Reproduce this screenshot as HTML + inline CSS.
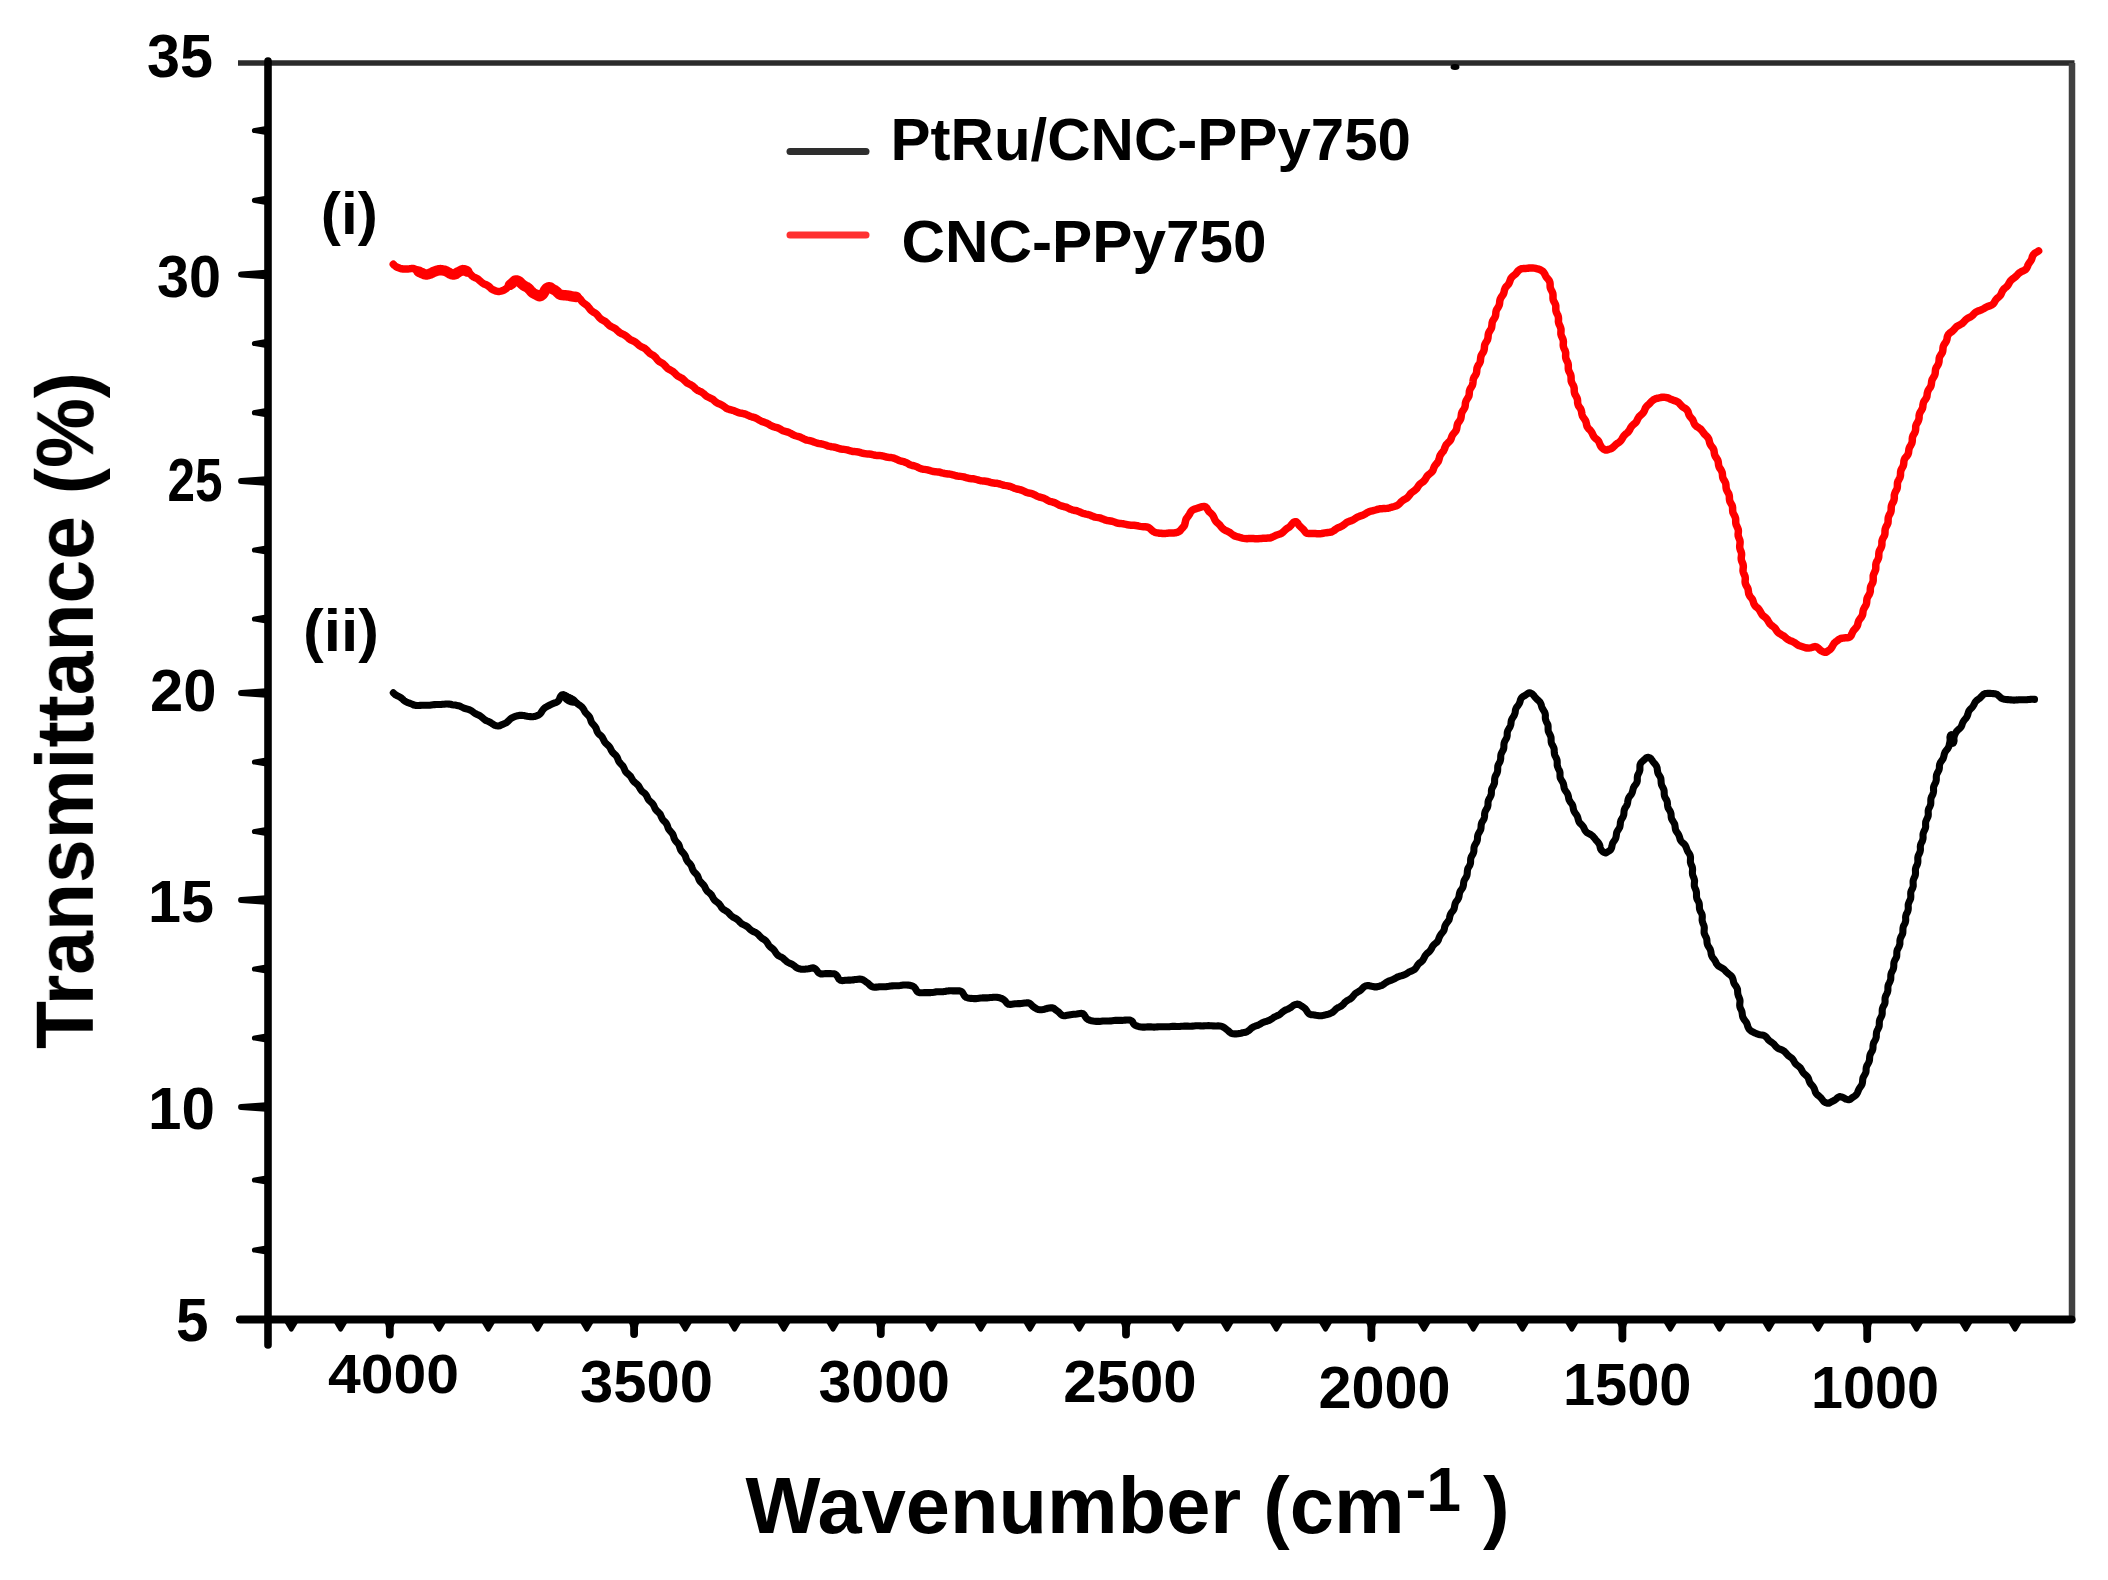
<!DOCTYPE html>
<html lang="en"><head><meta charset="utf-8"><title>FTIR spectra</title>
<style>
html,body{margin:0;padding:0;background:#fff;}
body{width:2108px;height:1580px;overflow:hidden;}
svg{display:block;}
text{font-family:"Liberation Sans",Arial,Helvetica,sans-serif;font-weight:bold;fill:#000;}
</style></head><body>
<svg width="2108" height="1580" viewBox="0 0 2108 1580">
<rect width="2108" height="1580" fill="#fff"/>
<g id="chart" style="filter:blur(0.55px)">
<line x1="238" y1="63" x2="2074.5" y2="63" stroke="#2b2b2b" stroke-width="5.5"/>
<line x1="2072" y1="63" x2="2072" y2="1321.5" stroke="#404040" stroke-width="6.5"/>
<line x1="268" y1="61" x2="268" y2="1345" stroke="#000" stroke-width="7.6" stroke-linecap="round"/>
<line x1="240" y1="1319.5" x2="2071.5" y2="1319.5" stroke="#000" stroke-width="8.2" stroke-linecap="round"/>
<g fill="#000">
<path d="M241,271.6 L266,269.7 L266,279.3 L241,277.4 A2.9,2.9 0 0 1 241,271.6 Z"/>
<path d="M241,478.1 L266,476.2 L266,485.8 L241,483.9 A2.9,2.9 0 0 1 241,478.1 Z"/>
<path d="M241,690.1 L266,688.2 L266,697.8 L241,695.9 A2.9,2.9 0 0 1 241,690.1 Z"/>
<path d="M241,897.1 L266,895.2 L266,904.8 L241,902.9 A2.9,2.9 0 0 1 241,897.1 Z"/>
<path d="M241,1104.1 L266,1102.2 L266,1111.8 L241,1109.9 A2.9,2.9 0 0 1 241,1104.1 Z"/>
<path d="M254.5,127.9 L266,125.9 L266,135.1 L254.5,133.1 A2.6,2.6 0 0 1 254.5,127.9 Z"/>
<path d="M254.5,197.70000000000002 L266,195.70000000000002 L266,204.9 L254.5,202.9 A2.6,2.6 0 0 1 254.5,197.70000000000002 Z"/>
<path d="M254.5,340.9 L266,338.9 L266,348.1 L254.5,346.1 A2.6,2.6 0 0 1 254.5,340.9 Z"/>
<path d="M254.5,410.09999999999997 L266,408.09999999999997 L266,417.3 L254.5,415.3 A2.6,2.6 0 0 1 254.5,410.09999999999997 Z"/>
<path d="M254.5,547.4 L266,545.4 L266,554.6 L254.5,552.6 A2.6,2.6 0 0 1 254.5,547.4 Z"/>
<path d="M254.5,616.4 L266,614.4 L266,623.6 L254.5,621.6 A2.6,2.6 0 0 1 254.5,616.4 Z"/>
<path d="M254.5,759.4 L266,757.4 L266,766.6 L254.5,764.6 A2.6,2.6 0 0 1 254.5,759.4 Z"/>
<path d="M254.5,828.9 L266,826.9 L266,836.1 L254.5,834.1 A2.6,2.6 0 0 1 254.5,828.9 Z"/>
<path d="M254.5,966.4 L266,964.4 L266,973.6 L254.5,971.6 A2.6,2.6 0 0 1 254.5,966.4 Z"/>
<path d="M254.5,1035.4 L266,1033.4 L266,1042.6 L254.5,1040.6 A2.6,2.6 0 0 1 254.5,1035.4 Z"/>
<path d="M254.5,1177.4 L266,1175.4 L266,1184.6 L254.5,1182.6 A2.6,2.6 0 0 1 254.5,1177.4 Z"/>
<path d="M254.5,1247.4 L266,1245.4 L266,1254.6 L254.5,1252.6 A2.6,2.6 0 0 1 254.5,1247.4 Z"/>
</g>
<line x1="240" y1="1319.5" x2="268" y2="1319.5" stroke="#000" stroke-width="7" stroke-linecap="round"/>
<g fill="#000">
<path d="M380.3,1319.5 Q385.9,1322.5 385.9,1327.5 L385.9,1334.6 A3.9,3.9 0 0 0 393.7,1334.6 L393.7,1327.5 Q393.7,1322.5 399.3,1319.5 Z"/>
<path d="M624.6,1319.5 Q630.2,1322.5 630.2,1327.5 L630.2,1334.1 A3.9,3.9 0 0 0 638.0,1334.1 L638.0,1327.5 Q638.0,1322.5 643.6,1319.5 Z"/>
<path d="M871.3,1319.5 Q876.9,1322.5 876.9,1327.5 L876.9,1334.1 A3.9,3.9 0 0 0 884.7,1334.1 L884.7,1327.5 Q884.7,1322.5 890.3,1319.5 Z"/>
<path d="M1116.5,1319.5 Q1122.1,1322.5 1122.1,1327.5 L1122.1,1334.6 A3.9,3.9 0 0 0 1129.9,1334.6 L1129.9,1327.5 Q1129.9,1322.5 1135.5,1319.5 Z"/>
<path d="M1361.9,1319.5 Q1367.5,1322.5 1367.5,1327.5 L1367.5,1338.1 A3.9,3.9 0 0 0 1375.3,1338.1 L1375.3,1327.5 Q1375.3,1322.5 1380.9,1319.5 Z"/>
<path d="M1612.9,1319.5 Q1618.5,1322.5 1618.5,1327.5 L1618.5,1338.6 A3.9,3.9 0 0 0 1626.3,1338.6 L1626.3,1327.5 Q1626.3,1322.5 1631.9,1319.5 Z"/>
<path d="M1857.7,1319.5 Q1863.3,1322.5 1863.3,1327.5 L1863.3,1339.1 A3.9,3.9 0 0 0 1871.1,1339.1 L1871.1,1327.5 Q1871.1,1322.5 1876.7,1319.5 Z"/>
<path d="M282.8,1319.5 L289.3,1330.5 Q291.3,1333.0 293.3,1330.5 L299.8,1319.5 Z"/>
<path d="M332.1,1319.5 L338.6,1330.5 Q340.6,1333.0 342.6,1330.5 L349.1,1319.5 Z"/>
<path d="M430.6,1319.5 L437.1,1330.5 Q439.1,1333.0 441.1,1330.5 L447.6,1319.5 Z"/>
<path d="M479.8,1319.5 L486.3,1330.5 Q488.3,1333.0 490.3,1330.5 L496.8,1319.5 Z"/>
<path d="M529.0,1319.5 L535.5,1330.5 Q537.5,1333.0 539.5,1330.5 L546.0,1319.5 Z"/>
<path d="M578.3,1319.5 L584.8,1330.5 Q586.8,1333.0 588.8,1330.5 L595.3,1319.5 Z"/>
<path d="M676.8,1319.5 L683.3,1330.5 Q685.3,1333.0 687.3,1330.5 L693.8,1319.5 Z"/>
<path d="M726.0,1319.5 L732.5,1330.5 Q734.5,1333.0 736.5,1330.5 L743.0,1319.5 Z"/>
<path d="M775.3,1319.5 L781.8,1330.5 Q783.8,1333.0 785.8,1330.5 L792.3,1319.5 Z"/>
<path d="M824.5,1319.5 L831.0,1330.5 Q833.0,1333.0 835.0,1330.5 L841.5,1319.5 Z"/>
<path d="M923.0,1319.5 L929.5,1330.5 Q931.5,1333.0 933.5,1330.5 L940.0,1319.5 Z"/>
<path d="M972.3,1319.5 L978.8,1330.5 Q980.8,1333.0 982.8,1330.5 L989.3,1319.5 Z"/>
<path d="M1021.5,1319.5 L1028.0,1330.5 Q1030.0,1333.0 1032.0,1330.5 L1038.5,1319.5 Z"/>
<path d="M1070.8,1319.5 L1077.3,1330.5 Q1079.3,1333.0 1081.3,1330.5 L1087.8,1319.5 Z"/>
<path d="M1169.3,1319.5 L1175.8,1330.5 Q1177.8,1333.0 1179.8,1330.5 L1186.3,1319.5 Z"/>
<path d="M1218.5,1319.5 L1225.0,1330.5 Q1227.0,1333.0 1229.0,1330.5 L1235.5,1319.5 Z"/>
<path d="M1267.8,1319.5 L1274.3,1330.5 Q1276.3,1333.0 1278.3,1330.5 L1284.8,1319.5 Z"/>
<path d="M1317.0,1319.5 L1323.5,1330.5 Q1325.5,1333.0 1327.5,1330.5 L1334.0,1319.5 Z"/>
<path d="M1415.5,1319.5 L1422.0,1330.5 Q1424.0,1333.0 1426.0,1330.5 L1432.5,1319.5 Z"/>
<path d="M1464.8,1319.5 L1471.3,1330.5 Q1473.3,1333.0 1475.3,1330.5 L1481.8,1319.5 Z"/>
<path d="M1514.0,1319.5 L1520.5,1330.5 Q1522.5,1333.0 1524.5,1330.5 L1531.0,1319.5 Z"/>
<path d="M1563.3,1319.5 L1569.8,1330.5 Q1571.8,1333.0 1573.8,1330.5 L1580.3,1319.5 Z"/>
<path d="M1661.8,1319.5 L1668.3,1330.5 Q1670.3,1333.0 1672.3,1330.5 L1678.8,1319.5 Z"/>
<path d="M1711.0,1319.5 L1717.5,1330.5 Q1719.5,1333.0 1721.5,1330.5 L1728.0,1319.5 Z"/>
<path d="M1760.3,1319.5 L1766.8,1330.5 Q1768.8,1333.0 1770.8,1330.5 L1777.3,1319.5 Z"/>
<path d="M1809.5,1319.5 L1816.0,1330.5 Q1818.0,1333.0 1820.0,1330.5 L1826.5,1319.5 Z"/>
<path d="M1908.0,1319.5 L1914.5,1330.5 Q1916.5,1333.0 1918.5,1330.5 L1925.0,1319.5 Z"/>
<path d="M1957.3,1319.5 L1963.8,1330.5 Q1965.8,1333.0 1967.8,1330.5 L1974.3,1319.5 Z"/>
<path d="M2006.5,1319.5 L2013.0,1330.5 Q2015.0,1333.0 2017.0,1330.5 L2023.5,1319.5 Z"/>
</g>
<ellipse cx="1455" cy="67" rx="4.5" ry="3" fill="#000"/>
<polyline points="393.3,264.2 394.4,265.4 395.7,266.4 397.1,267.2 398.6,267.8 400.0,268.4 401.6,268.8 403.1,269.0 404.7,269.0 406.3,269.0 407.9,268.9 409.5,268.8 411.1,268.6 412.7,268.5 414.3,268.8 415.8,269.5 417.1,270.5 418.4,271.4 419.8,272.2 421.3,272.8 422.7,273.4 424.1,274.1 425.7,274.5 427.2,274.4 428.8,274.1 430.4,273.6 431.8,272.9 433.2,272.1 434.7,271.4 436.2,270.9 437.8,270.5 439.3,270.2 440.9,270.1 442.4,270.3 444.0,270.6 445.5,271.1 447.0,271.7 448.4,272.5 449.8,273.4 451.3,274.1 452.8,274.5 454.4,274.6 455.9,273.9 457.1,272.9 458.5,272.1 459.9,271.4 461.3,270.7 462.8,270.1 464.3,270.3 465.8,270.8 467.2,271.5 468.6,272.3 469.8,273.4 470.9,274.7 472.0,275.8 473.3,276.8 474.7,277.5 476.2,278.2 477.7,278.9 478.9,279.9 480.1,281.0 481.3,282.1 482.6,283.1 484.0,283.9 485.5,284.5 487.0,285.2 488.3,286.0 489.5,287.0 490.7,288.2 492.0,289.2 493.4,290.0 494.9,290.6 496.4,291.1 497.9,291.5 499.4,291.4 501.0,291.1 502.5,290.7 504.0,290.1 505.4,289.2 506.7,288.2 507.8,287.0 508.8,285.9 510.0,284.8 511.4,283.9 512.6,282.9 513.7,281.8 514.8,280.7 516.4,280.4 517.9,280.8 519.3,281.6 520.5,282.7 521.7,283.9 522.9,285.0 524.2,285.8 525.7,286.6 527.1,287.3 528.4,288.2 529.5,289.4 530.6,290.7 531.7,291.9 532.9,292.9 534.3,293.7 535.8,294.4 537.1,295.1 538.4,296.0 540.0,296.2 541.4,295.6 542.7,294.5 543.6,293.2 544.4,291.7 545.1,290.2 546.1,288.9 547.3,287.9 548.7,287.2 550.2,287.4 551.5,288.3 552.8,289.2 554.3,289.9 555.6,290.8 556.8,291.8 558.0,293.0 559.2,294.1 560.6,294.8 562.2,295.1 563.8,295.2 565.4,295.3 567.0,295.4 568.6,295.7 570.2,296.0 571.8,296.3 573.3,296.6 574.9,296.8 576.5,297.0 578.1,297.4 579.4,298.3 580.6,299.5 581.5,300.9 582.6,302.1 583.7,303.2 585.1,304.1 586.4,305.0 587.6,306.1 588.6,307.3 589.6,308.6 590.6,309.9 591.8,311.0 593.1,311.9 594.5,312.7 595.9,313.6 597.0,314.7 598.1,316.0 599.1,317.3 600.2,318.4 601.4,319.4 602.9,320.2 604.3,321.0 605.6,321.8 606.8,322.9 607.9,324.1 609.1,325.2 610.4,326.2 611.8,326.9 613.3,327.6 614.7,328.3 616.0,329.3 617.2,330.4 618.4,331.5 619.6,332.5 621.0,333.4 622.5,334.0 623.9,334.7 625.3,335.5 626.6,336.5 627.8,337.6 629.0,338.7 630.3,339.6 631.7,340.3 633.2,340.9 634.7,341.7 636.0,342.6 637.2,343.6 638.4,344.7 639.6,345.8 641.0,346.6 642.5,347.3 644.0,347.9 645.3,348.8 646.5,349.9 647.6,351.1 648.7,352.3 649.9,353.4 651.2,354.2 652.7,355.0 654.0,355.9 655.2,357.0 656.2,358.2 657.2,359.5 658.3,360.7 659.6,361.7 661.0,362.5 662.4,363.3 663.7,364.3 664.8,365.4 665.9,366.6 667.0,367.8 668.2,368.8 669.6,369.7 671.1,370.4 672.5,371.2 673.7,372.2 674.9,373.3 676.0,374.5 677.2,375.6 678.5,376.5 679.9,377.2 681.4,378.0 682.7,378.8 683.9,379.9 685.1,381.1 686.2,382.2 687.5,383.2 688.9,383.9 690.4,384.6 691.8,385.4 693.1,386.3 694.3,387.4 695.4,388.6 696.6,389.6 698.0,390.5 699.5,391.2 701.0,391.8 702.3,392.6 703.6,393.6 704.8,394.7 706.0,395.8 707.3,396.7 708.8,397.4 710.3,398.1 711.7,398.8 713.1,399.6 714.3,400.7 715.5,401.8 716.8,402.7 718.2,403.5 719.7,404.1 721.2,404.7 722.6,405.5 723.9,406.4 725.2,407.4 726.5,408.3 728.0,409.0 729.5,409.5 731.1,409.9 732.6,410.3 734.1,410.8 735.6,411.4 737.1,412.1 738.6,412.7 740.1,413.1 741.7,413.3 743.3,413.6 744.9,414.0 746.4,414.6 747.8,415.2 749.3,415.9 750.8,416.5 752.3,417.0 753.9,417.4 755.4,417.9 756.8,418.6 758.2,419.4 759.6,420.3 761.0,421.1 762.4,421.7 764.0,422.2 765.5,422.7 767.0,423.3 768.4,424.0 769.8,424.9 771.2,425.7 772.6,426.4 774.2,426.9 775.7,427.3 777.3,427.7 778.7,428.3 780.2,429.1 781.6,429.9 783.0,430.7 784.5,431.2 786.0,431.6 787.6,432.0 789.1,432.6 790.6,433.3 791.9,434.1 793.4,434.9 794.8,435.5 796.4,436.0 797.9,436.4 799.5,436.8 801.0,437.4 802.4,438.2 803.8,438.9 805.3,439.6 806.8,440.1 808.4,440.4 810.0,440.7 811.5,441.1 813.0,441.6 814.5,442.3 816.0,442.8 817.5,443.3 819.1,443.6 820.7,443.8 822.3,444.1 823.8,444.5 825.4,445.0 826.9,445.6 828.4,446.1 830.0,446.4 831.5,446.7 833.1,446.9 834.7,447.2 836.2,447.6 837.8,448.2 839.3,448.6 840.9,449.0 842.5,449.2 844.1,449.4 845.6,449.6 847.2,449.9 848.8,450.4 850.3,450.8 851.8,451.2 853.4,451.5 855.0,451.6 856.6,451.8 858.2,452.0 859.8,452.4 861.3,452.9 862.9,453.3 864.4,453.6 866.0,453.8 867.6,453.9 869.2,454.0 870.8,454.2 872.4,454.6 873.9,455.0 875.5,455.3 877.1,455.5 878.7,455.5 880.3,455.6 881.9,455.8 883.5,456.2 885.0,456.6 886.6,457.0 888.1,457.3 889.7,457.5 891.3,457.6 892.9,457.9 894.5,458.4 895.9,459.0 897.4,459.7 898.8,460.4 900.4,460.9 901.9,461.3 903.5,461.6 905.0,462.2 906.5,462.8 907.9,463.6 909.3,464.4 910.8,465.0 912.3,465.5 913.9,465.8 915.4,466.3 916.9,466.8 918.4,467.6 919.8,468.2 921.3,468.8 922.9,469.2 924.5,469.4 926.1,469.6 927.6,469.9 929.2,470.3 930.7,470.8 932.3,471.2 933.8,471.5 935.4,471.7 937.0,471.9 938.6,472.0 940.2,472.3 941.8,472.8 943.3,473.2 944.9,473.6 946.4,473.8 948.0,474.0 949.6,474.1 951.2,474.4 952.8,474.8 954.3,475.2 955.8,475.7 957.4,476.0 959.0,476.2 960.6,476.4 962.2,476.6 963.8,476.9 965.3,477.4 966.8,477.8 968.4,478.2 970.0,478.5 971.6,478.7 973.2,478.8 974.8,479.1 976.3,479.5 977.8,479.9 979.4,480.4 981.0,480.7 982.5,480.9 984.2,481.0 985.7,481.2 987.3,481.5 988.9,481.9 990.4,482.4 992.0,482.8 993.5,483.0 995.1,483.2 996.7,483.3 998.3,483.6 999.9,484.0 1001.4,484.5 1002.9,485.0 1004.5,485.4 1006.1,485.6 1007.7,485.9 1009.2,486.2 1010.8,486.6 1012.3,487.3 1013.7,487.9 1015.2,488.5 1016.7,489.0 1018.3,489.3 1019.9,489.6 1021.4,490.1 1022.9,490.7 1024.4,491.4 1025.8,492.1 1027.3,492.6 1028.9,493.0 1030.5,493.3 1032.0,493.7 1033.5,494.3 1035.0,495.0 1036.4,495.8 1037.8,496.5 1039.3,497.0 1040.9,497.4 1042.5,497.8 1044.0,498.3 1045.4,499.0 1046.8,499.9 1048.2,500.6 1049.7,501.3 1051.2,501.7 1052.8,502.1 1054.3,502.6 1055.8,503.2 1057.2,504.0 1058.6,504.8 1060.1,505.5 1061.6,506.0 1063.2,506.4 1064.7,506.8 1066.3,507.2 1067.7,507.9 1069.2,508.6 1070.6,509.3 1072.1,509.8 1073.7,510.2 1075.3,510.5 1076.8,510.8 1078.4,511.4 1079.8,512.0 1081.3,512.7 1082.8,513.3 1084.3,513.7 1085.9,514.1 1087.5,514.4 1089.0,514.8 1090.5,515.3 1092.0,516.0 1093.5,516.6 1095.0,517.1 1096.6,517.4 1098.2,517.6 1099.8,517.9 1101.3,518.4 1102.8,519.0 1104.3,519.6 1105.8,520.1 1107.4,520.5 1109.0,520.7 1110.5,521.0 1112.1,521.3 1113.6,521.8 1115.1,522.3 1116.7,522.9 1118.2,523.3 1119.8,523.5 1121.4,523.6 1123.0,523.8 1124.6,524.1 1126.1,524.4 1127.7,524.8 1129.3,525.1 1130.9,525.2 1132.5,525.3 1134.1,525.3 1135.7,525.5 1137.3,525.7 1138.8,526.1 1140.4,526.4 1142.0,526.6 1143.6,526.8 1145.2,526.8 1146.8,527.0 1148.4,527.4 1149.8,528.3 1150.9,529.4 1152.1,530.6 1153.3,531.5 1154.8,532.3 1156.3,532.7 1157.8,532.9 1159.4,533.2 1161.0,533.3 1162.6,533.5 1164.2,533.5 1165.8,533.4 1167.4,533.2 1169.0,533.1 1170.6,533.0 1172.2,533.0 1173.8,532.9 1175.4,532.8 1177.0,532.4 1178.5,531.8 1179.8,531.0 1180.8,529.8 1181.8,528.6 1182.9,527.5 1184.0,526.2 1184.7,524.8 1185.1,523.2 1185.4,521.6 1185.8,520.0 1186.4,518.5 1187.4,517.2 1188.4,515.9 1189.3,514.6 1190.0,513.2 1190.8,511.8 1191.9,510.6 1193.2,509.7 1194.7,509.1 1196.3,508.6 1197.8,508.2 1199.3,507.6 1200.8,507.1 1202.3,506.6 1204.0,506.4 1205.5,506.8 1206.7,508.0 1207.6,509.4 1208.4,510.8 1209.4,512.0 1210.6,513.1 1211.8,514.2 1212.8,515.4 1213.6,516.8 1214.3,518.3 1214.9,519.8 1215.8,521.2 1216.9,522.4 1218.1,523.4 1219.3,524.5 1220.3,525.7 1221.3,527.0 1222.4,528.2 1223.6,529.3 1224.9,530.1 1226.4,530.8 1227.9,531.4 1229.3,532.2 1230.6,533.1 1231.9,534.1 1233.2,535.1 1234.6,535.9 1236.1,536.4 1237.7,536.8 1239.2,537.2 1240.7,537.7 1242.3,538.1 1243.8,538.4 1245.4,538.6 1247.0,538.7 1248.6,538.6 1250.2,538.6 1251.8,538.5 1253.4,538.6 1255.0,538.7 1256.6,538.7 1258.2,538.7 1259.8,538.6 1261.4,538.4 1263.0,538.3 1264.6,538.2 1266.2,538.2 1267.8,538.1 1269.4,538.0 1271.0,537.7 1272.5,537.0 1273.9,536.3 1275.4,535.6 1276.9,535.0 1278.4,534.5 1279.9,534.0 1281.4,533.3 1282.7,532.4 1283.9,531.3 1285.0,530.2 1286.2,529.1 1287.5,528.2 1288.9,527.3 1290.1,526.3 1291.2,525.1 1292.1,523.8 1293.3,522.6 1294.7,521.8 1296.3,521.8 1297.5,522.9 1298.4,524.3 1299.3,525.6 1300.4,526.7 1301.6,527.8 1302.8,528.8 1303.8,530.0 1304.8,531.4 1305.8,532.6 1307.3,533.4 1308.9,533.6 1310.5,533.6 1312.1,533.6 1313.7,533.6 1315.3,533.6 1316.9,533.7 1318.5,533.7 1320.1,533.7 1321.7,533.5 1323.3,533.2 1324.9,532.9 1326.4,532.7 1328.0,532.5 1329.6,532.3 1331.2,532.0 1332.7,531.3 1334.1,530.5 1335.3,529.5 1336.7,528.6 1338.1,527.8 1339.6,527.2 1341.1,526.6 1342.5,525.8 1343.8,524.8 1345.0,523.8 1346.2,522.8 1347.6,522.0 1349.1,521.4 1350.7,520.9 1352.2,520.3 1353.6,519.6 1355.0,518.7 1356.3,517.8 1357.7,517.0 1359.2,516.4 1360.7,515.9 1362.2,515.4 1363.7,514.8 1365.1,514.0 1366.5,513.1 1367.9,512.3 1369.3,511.6 1370.9,511.2 1372.4,510.8 1374.0,510.4 1375.5,510.0 1377.0,509.5 1378.6,509.1 1380.2,508.8 1381.8,508.7 1383.4,508.6 1385.0,508.6 1386.6,508.4 1388.2,508.2 1389.7,507.8 1391.2,507.3 1392.8,506.9 1394.3,506.5 1395.8,506.0 1397.3,505.3 1398.7,504.4 1399.8,503.3 1400.9,502.1 1402.1,501.0 1403.4,500.1 1404.8,499.3 1406.2,498.5 1407.5,497.5 1408.6,496.3 1409.6,495.0 1410.5,493.7 1411.7,492.6 1413.0,491.6 1414.4,490.7 1415.6,489.7 1416.7,488.6 1417.6,487.2 1418.5,485.8 1419.5,484.5 1420.6,483.5 1422.0,482.5 1423.3,481.6 1424.4,480.4 1425.4,479.1 1426.2,477.7 1427.0,476.3 1428.1,475.1 1429.3,474.1 1430.6,473.1 1431.8,472.0 1432.8,470.7 1433.4,469.1 1433.9,467.6 1434.6,466.1 1435.5,464.8 1436.6,463.6 1437.6,462.3 1438.5,461.0 1439.0,459.4 1439.4,457.8 1439.8,456.2 1440.5,454.8 1441.4,453.5 1442.5,452.2 1443.5,451.0 1444.2,449.5 1444.8,448.0 1445.3,446.5 1446.0,445.0 1447.0,443.8 1448.2,442.6 1449.4,441.5 1450.4,440.2 1451.1,438.8 1451.6,437.2 1452.2,435.7 1453.0,434.3 1454.0,433.1 1455.1,431.8 1456.0,430.5 1456.6,429.0 1456.9,427.4 1457.1,425.7 1457.5,424.2 1458.2,422.7 1459.2,421.4 1460.1,420.0 1460.8,418.6 1461.1,417.0 1461.3,415.3 1461.5,413.7 1462.0,412.2 1462.8,410.8 1463.8,409.4 1464.6,408.0 1465.1,406.5 1465.3,404.9 1465.4,403.2 1465.8,401.7 1466.4,400.2 1467.3,398.8 1468.2,397.4 1468.9,396.0 1469.2,394.4 1469.3,392.7 1469.4,391.1 1469.9,389.6 1470.7,388.1 1471.6,386.7 1472.4,385.3 1472.8,383.8 1473.0,382.1 1473.1,380.5 1473.4,378.9 1474.0,377.4 1474.9,376.0 1475.8,374.6 1476.4,373.2 1476.7,371.6 1476.8,369.9 1477.0,368.3 1477.5,366.8 1478.2,365.3 1479.2,364.0 1479.9,362.5 1480.4,361.0 1480.5,359.4 1480.7,357.7 1481.0,356.1 1481.6,354.7 1482.5,353.3 1483.4,351.9 1484.0,350.4 1484.3,348.8 1484.4,347.2 1484.6,345.5 1485.0,344.0 1485.8,342.6 1486.7,341.2 1487.5,339.8 1487.9,338.2 1488.1,336.6 1488.2,334.9 1488.5,333.4 1489.2,331.9 1490.1,330.5 1490.9,329.1 1491.6,327.6 1491.8,326.0 1492.0,324.4 1492.1,322.8 1492.6,321.2 1493.4,319.8 1494.4,318.4 1495.1,317.0 1495.6,315.5 1495.8,313.8 1495.9,312.2 1496.2,310.6 1496.9,309.1 1497.8,307.8 1498.6,306.4 1499.3,304.9 1499.6,303.3 1499.7,301.7 1500.0,300.0 1500.5,298.5 1501.3,297.1 1502.3,295.8 1503.2,294.4 1503.8,293.0 1504.2,291.4 1504.5,289.8 1505.1,288.3 1506.0,286.9 1507.1,285.7 1508.2,284.5 1509.1,283.2 1509.7,281.7 1510.2,280.1 1510.8,278.6 1511.7,277.3 1512.9,276.1 1514.2,275.1 1515.5,274.1 1516.5,272.9 1517.5,271.6 1518.6,270.4 1519.9,269.4 1521.4,268.8 1523.0,268.6 1524.6,268.5 1526.2,268.4 1527.8,268.2 1529.4,268.0 1531.0,267.9 1532.6,267.9 1534.2,268.1 1535.7,268.4 1537.3,268.8 1538.8,269.2 1540.2,269.8 1541.6,270.6 1543.0,271.5 1544.0,272.8 1544.8,274.2 1545.5,275.7 1546.3,277.1 1547.3,278.3 1548.4,279.5 1549.3,280.9 1549.9,282.4 1550.1,284.1 1550.1,285.7 1550.2,287.3 1550.7,288.9 1551.4,290.3 1552.2,291.8 1552.8,293.3 1553.0,294.9 1553.0,296.5 1553.0,298.2 1553.2,299.8 1553.8,301.3 1554.6,302.7 1555.4,304.2 1555.8,305.7 1555.8,307.4 1555.8,309.0 1555.9,310.6 1556.3,312.2 1557.0,313.7 1557.8,315.1 1558.3,316.6 1558.5,318.2 1558.5,319.9 1558.4,321.5 1558.7,323.1 1559.2,324.6 1560.0,326.1 1560.6,327.6 1561.0,329.2 1561.0,330.8 1560.9,332.5 1560.9,334.1 1561.3,335.6 1562.0,337.1 1562.7,338.6 1563.2,340.2 1563.4,341.8 1563.3,343.4 1563.2,345.1 1563.4,346.6 1563.9,348.2 1564.7,349.7 1565.3,351.2 1565.7,352.7 1565.7,354.3 1565.6,356.0 1565.7,357.6 1566.1,359.2 1566.8,360.7 1567.6,362.1 1568.1,363.6 1568.3,365.2 1568.3,366.9 1568.3,368.5 1568.5,370.1 1569.1,371.6 1569.9,373.1 1570.6,374.5 1571.0,376.1 1571.1,377.7 1571.1,379.4 1571.2,381.0 1571.7,382.5 1572.5,384.0 1573.3,385.4 1573.9,386.9 1574.2,388.5 1574.2,390.1 1574.3,391.8 1574.6,393.3 1575.3,394.8 1576.1,396.2 1576.9,397.7 1577.4,399.2 1577.6,400.8 1577.6,402.5 1577.9,404.1 1578.4,405.6 1579.3,407.0 1580.3,408.3 1581.0,409.7 1581.5,411.3 1581.7,412.9 1582.0,414.5 1582.5,416.1 1583.3,417.5 1584.3,418.8 1585.2,420.1 1585.9,421.6 1586.3,423.1 1586.6,424.8 1587.0,426.3 1587.8,427.7 1588.9,429.0 1590.1,430.1 1591.1,431.3 1591.9,432.7 1592.6,434.2 1593.3,435.7 1594.2,437.0 1595.3,438.2 1596.6,439.2 1597.8,440.3 1598.8,441.6 1599.4,443.1 1600.0,444.6 1600.7,446.1 1601.7,447.4 1602.9,448.5 1604.1,449.4 1605.5,450.0 1607.1,449.9 1608.6,449.4 1610.1,449.0 1611.6,448.3 1612.9,447.4 1614.1,446.3 1615.3,445.1 1616.4,444.1 1617.7,443.2 1619.1,442.3 1620.3,441.2 1621.4,440.0 1622.2,438.6 1623.0,437.2 1623.9,435.8 1625.0,434.7 1626.2,433.6 1627.5,432.6 1628.6,431.4 1629.5,430.1 1630.2,428.6 1631.0,427.2 1632.0,425.9 1633.1,424.8 1634.4,423.8 1635.6,422.7 1636.6,421.4 1637.3,419.9 1638.0,418.4 1638.8,417.1 1639.9,415.9 1641.1,414.8 1642.4,413.7 1643.4,412.5 1644.2,411.1 1644.8,409.6 1645.4,408.1 1646.3,406.7 1647.4,405.5 1648.6,404.4 1649.7,403.4 1650.8,402.2 1651.9,401.1 1653.2,400.0 1654.5,399.2 1656.1,398.6 1657.6,398.2 1659.2,397.9 1660.7,397.5 1662.3,397.2 1663.9,397.2 1665.5,397.4 1667.0,397.7 1668.6,398.2 1670.0,398.9 1671.5,399.5 1673.0,400.1 1674.5,400.6 1676.1,401.1 1677.5,401.8 1678.8,402.8 1679.9,404.0 1680.9,405.2 1682.1,406.4 1683.4,407.3 1684.8,408.2 1686.1,409.1 1687.2,410.3 1688.0,411.7 1688.5,413.3 1689.0,414.9 1689.8,416.2 1690.8,417.5 1691.9,418.7 1692.8,420.0 1693.5,421.5 1694.0,423.0 1694.7,424.5 1695.8,425.7 1697.1,426.8 1698.5,427.6 1699.8,428.5 1701.0,429.5 1702.1,430.8 1703.0,432.1 1703.9,433.4 1705.0,434.6 1706.1,435.7 1707.3,436.9 1708.3,438.2 1708.9,439.6 1709.3,441.2 1709.7,442.8 1710.3,444.3 1711.1,445.7 1712.1,447.0 1713.1,448.3 1713.8,449.8 1714.1,451.4 1714.3,453.0 1714.6,454.6 1715.2,456.1 1716.1,457.5 1717.0,458.8 1717.8,460.3 1718.2,461.8 1718.4,463.4 1718.6,465.1 1719.0,466.6 1719.7,468.1 1720.7,469.4 1721.5,470.8 1722.1,472.3 1722.4,473.9 1722.5,475.6 1722.7,477.2 1723.2,478.7 1724.0,480.1 1724.9,481.5 1725.6,483.0 1725.9,484.6 1726.0,486.2 1726.1,487.8 1726.4,489.4 1727.1,490.9 1727.9,492.3 1728.7,493.7 1729.2,495.3 1729.4,496.9 1729.4,498.5 1729.6,500.2 1730.0,501.7 1730.8,503.1 1731.7,504.6 1732.3,506.0 1732.6,507.6 1732.6,509.3 1732.7,510.9 1732.9,512.5 1733.6,514.0 1734.4,515.4 1735.1,516.9 1735.6,518.4 1735.7,520.0 1735.7,521.7 1735.8,523.3 1736.2,524.9 1736.9,526.3 1737.6,527.8 1738.2,529.3 1738.4,530.9 1738.3,532.6 1738.1,534.2 1738.2,535.8 1738.7,537.4 1739.3,538.9 1739.9,540.4 1740.1,542.0 1740.0,543.7 1739.8,545.3 1739.7,546.9 1739.9,548.5 1740.4,550.1 1741.1,551.6 1741.5,553.1 1741.6,554.7 1741.4,556.4 1741.2,558.0 1741.3,559.6 1741.7,561.2 1742.4,562.7 1743.0,564.2 1743.3,565.8 1743.3,567.4 1743.1,569.1 1743.0,570.7 1743.3,572.3 1743.9,573.8 1744.6,575.3 1745.1,576.8 1745.3,578.4 1745.2,580.1 1745.1,581.7 1745.3,583.3 1745.9,584.9 1746.7,586.3 1747.5,587.7 1748.1,589.2 1748.3,590.8 1748.5,592.4 1748.8,594.0 1749.5,595.5 1750.4,596.8 1751.5,598.1 1752.4,599.4 1753.0,600.9 1753.5,602.5 1754.0,604.0 1754.8,605.4 1755.9,606.6 1757.2,607.7 1758.4,608.7 1759.4,610.0 1760.2,611.4 1761.0,612.8 1761.8,614.3 1762.8,615.5 1764.1,616.5 1765.4,617.5 1766.5,618.6 1767.5,619.9 1768.3,621.3 1769.1,622.7 1770.0,624.0 1771.2,625.1 1772.6,626.1 1773.9,627.1 1775.0,628.2 1775.9,629.5 1776.8,630.9 1777.8,632.2 1779.0,633.3 1780.4,634.1 1781.8,634.9 1783.2,635.7 1784.5,636.6 1785.6,637.8 1786.9,638.8 1788.2,639.7 1789.6,640.4 1791.1,641.0 1792.6,641.6 1794.1,642.3 1795.4,643.2 1796.7,644.2 1798.0,645.1 1799.5,645.8 1801.0,646.3 1802.5,646.8 1804.0,647.3 1805.5,647.8 1807.1,648.1 1808.7,648.1 1810.3,647.9 1811.8,647.5 1813.4,646.9 1815.0,646.6 1816.5,646.9 1817.9,647.8 1819.1,648.9 1820.2,650.1 1821.6,651.0 1823.0,651.7 1824.5,652.2 1826.0,652.3 1827.3,651.5 1828.5,650.6 1829.9,649.7 1831.0,648.5 1831.9,647.2 1832.7,645.7 1833.5,644.3 1834.4,643.0 1835.6,641.9 1836.9,641.0 1838.2,640.0 1839.4,639.1 1840.8,638.5 1842.4,638.1 1844.0,637.9 1845.6,637.8 1847.2,637.7 1848.8,637.5 1850.2,636.7 1851.2,635.4 1851.9,633.8 1852.5,632.3 1853.3,630.9 1854.3,629.6 1855.4,628.5 1856.5,627.2 1857.3,625.8 1857.8,624.3 1858.1,622.6 1858.6,621.1 1859.4,619.7 1860.4,618.4 1861.4,617.1 1862.2,615.7 1862.7,614.2 1862.9,612.5 1863.1,610.9 1863.5,609.4 1864.3,607.9 1865.2,606.5 1866.0,605.1 1866.5,603.6 1866.7,602.0 1866.8,600.3 1867.0,598.7 1867.6,597.2 1868.4,595.8 1869.3,594.4 1869.9,592.9 1870.3,591.4 1870.3,589.7 1870.4,588.1 1870.7,586.5 1871.4,585.0 1872.2,583.6 1872.9,582.1 1873.2,580.5 1873.2,578.9 1873.2,577.2 1873.2,575.6 1873.7,574.1 1874.4,572.6 1875.1,571.1 1875.7,569.6 1875.8,568.0 1875.8,566.4 1875.8,564.7 1876.1,563.1 1876.7,561.6 1877.6,560.2 1878.3,558.7 1878.7,557.2 1878.8,555.6 1878.8,553.9 1879.0,552.3 1879.4,550.8 1880.2,549.3 1881.0,547.9 1881.6,546.4 1881.9,544.8 1881.9,543.1 1881.9,541.5 1882.3,539.9 1882.9,538.4 1883.7,537.0 1884.5,535.6 1884.9,534.0 1885.0,532.4 1885.0,530.7 1885.2,529.1 1885.7,527.6 1886.4,526.1 1887.3,524.7 1887.9,523.2 1888.1,521.6 1888.1,520.0 1888.2,518.3 1888.5,516.8 1889.1,515.3 1890.0,513.8 1890.7,512.4 1891.1,510.8 1891.2,509.2 1891.2,507.5 1891.4,505.9 1891.9,504.4 1892.6,503.0 1893.5,501.5 1894.0,500.0 1894.3,498.4 1894.3,496.8 1894.3,495.1 1894.7,493.6 1895.3,492.1 1896.1,490.6 1896.9,489.2 1897.3,487.6 1897.4,486.0 1897.4,484.3 1897.5,482.7 1898.0,481.2 1898.8,479.8 1899.6,478.3 1900.2,476.8 1900.5,475.2 1900.5,473.6 1900.6,471.9 1900.9,470.4 1901.6,468.9 1902.4,467.5 1903.2,466.0 1903.6,464.5 1903.8,462.9 1903.9,461.2 1904.3,459.6 1905.0,458.2 1906.1,456.9 1907.2,455.7 1908.0,454.3 1908.5,452.8 1908.7,451.1 1908.9,449.5 1909.3,447.9 1910.0,446.5 1910.9,445.1 1911.7,443.6 1912.1,442.1 1912.3,440.5 1912.3,438.8 1912.5,437.2 1913.0,435.7 1913.8,434.3 1914.7,432.9 1915.3,431.4 1915.6,429.8 1915.7,428.1 1915.7,426.5 1916.1,424.9 1916.8,423.5 1917.7,422.1 1918.4,420.6 1918.9,419.1 1919.1,417.5 1919.1,415.8 1919.4,414.2 1919.9,412.7 1920.8,411.3 1921.7,409.9 1922.4,408.5 1922.8,406.9 1922.9,405.3 1923.2,403.7 1923.6,402.1 1924.4,400.7 1925.4,399.4 1926.3,398.0 1926.9,396.5 1927.1,394.9 1927.3,393.2 1927.7,391.7 1928.3,390.2 1929.2,388.8 1930.2,387.5 1930.9,386.1 1931.3,384.5 1931.5,382.9 1931.7,381.2 1932.1,379.7 1932.9,378.3 1933.8,376.9 1934.6,375.5 1935.1,373.9 1935.3,372.3 1935.4,370.7 1935.6,369.1 1936.2,367.6 1937.1,366.2 1938.0,364.8 1938.6,363.3 1939.0,361.7 1939.1,360.1 1939.2,358.5 1939.6,356.9 1940.4,355.5 1941.3,354.1 1942.2,352.7 1942.7,351.2 1942.9,349.6 1943.0,347.9 1943.3,346.3 1943.9,344.8 1944.8,343.5 1945.8,342.1 1946.5,340.7 1947.0,339.1 1947.2,337.5 1947.6,335.9 1948.4,334.4 1949.5,333.3 1950.8,332.3 1952.1,331.4 1953.3,330.3 1954.4,329.1 1955.4,327.9 1956.6,326.7 1957.9,325.8 1959.3,325.1 1960.8,324.3 1962.2,323.5 1963.3,322.4 1964.4,321.2 1965.5,320.0 1966.7,318.9 1968.1,318.1 1969.6,317.3 1971.0,316.6 1972.3,315.6 1973.4,314.5 1974.5,313.3 1975.7,312.2 1977.1,311.4 1978.6,310.8 1980.2,310.3 1981.7,309.7 1983.1,309.0 1984.5,308.2 1985.8,307.3 1987.3,306.6 1988.8,306.1 1990.3,305.6 1991.8,304.9 1993.1,304.0 1994.1,302.7 1994.9,301.2 1995.8,299.8 1996.8,298.6 1998.0,297.6 1999.3,296.5 2000.4,295.3 2001.2,293.9 2001.8,292.4 2002.5,290.9 2003.4,289.6 2004.5,288.4 2005.8,287.4 2007.0,286.3 2008.0,285.1 2008.8,283.7 2009.6,282.2 2010.5,280.9 2011.6,279.7 2012.9,278.7 2014.2,277.8 2015.5,276.8 2016.6,275.7 2017.7,274.5 2018.8,273.3 2020.1,272.4 2021.5,271.6 2023.0,271.0 2024.5,270.2 2025.8,269.3 2026.8,268.0 2027.5,266.5 2028.0,265.0 2028.8,263.6 2029.7,262.3 2030.7,261.0 2031.5,259.6 2032.0,258.1 2032.4,256.5 2033.2,255.0 2034.2,253.8 2035.5,252.8 2037.0,252.0 2038.3,251.1 2038.6,250.9" fill="none" stroke="#ff0000" stroke-width="7.5" stroke-linejoin="round" stroke-linecap="round"/>
<polyline points="393.3,692.8 394.5,693.9 395.7,694.9 397.1,695.7 398.6,696.4 400.0,697.1 401.3,698.0 402.6,699.1 403.7,700.2 405.0,701.2 406.4,702.0 407.9,702.6 409.4,703.1 410.9,703.7 412.4,704.3 413.8,705.0 415.4,705.4 417.0,705.5 418.6,705.5 420.2,705.4 421.8,705.3 423.4,705.2 425.0,705.2 426.6,705.3 428.2,705.3 429.8,705.2 431.4,705.0 433.0,704.8 434.6,704.6 436.2,704.5 437.8,704.5 439.4,704.5 441.0,704.5 442.6,704.3 444.2,704.2 445.8,704.0 447.4,704.0 449.0,704.1 450.6,704.3 452.1,704.7 453.7,704.9 455.3,705.1 456.9,705.4 458.4,705.7 460.0,706.2 461.4,706.9 462.9,707.6 464.3,708.3 465.9,708.7 467.4,709.1 469.0,709.6 470.5,710.2 471.8,711.0 473.1,712.0 474.4,713.0 475.8,713.8 477.2,714.5 478.7,715.1 480.1,715.9 481.4,716.8 482.6,717.9 483.8,719.0 485.1,720.0 486.5,720.7 488.0,721.3 489.5,722.0 490.9,722.7 492.2,723.7 493.6,724.6 495.0,725.4 496.5,725.8 498.1,726.0 499.7,725.7 501.1,725.0 502.6,724.4 504.0,723.8 505.5,723.1 506.9,722.3 508.1,721.3 509.3,720.1 510.4,718.9 511.7,718.0 513.2,717.3 514.6,716.6 516.1,716.1 517.6,715.7 519.2,715.4 520.8,715.3 522.4,715.4 524.0,715.6 525.5,715.9 527.1,716.3 528.7,716.5 530.3,716.6 531.9,716.7 533.5,716.6 535.0,716.4 536.5,715.9 538.0,715.3 539.4,714.5 540.6,713.4 541.5,712.0 542.3,710.6 543.3,709.3 544.4,708.2 545.8,707.2 547.1,706.4 548.5,705.7 549.9,705.0 551.4,704.3 552.8,703.6 554.3,703.0 555.8,702.6 557.2,701.9 558.4,700.8 559.3,699.4 559.9,697.8 560.6,696.3 561.7,695.0 563.2,694.6 564.8,695.2 566.2,696.0 567.5,696.9 568.9,697.6 570.4,698.2 571.9,698.9 573.3,699.8 574.5,700.8 575.6,702.0 576.7,703.1 577.9,704.1 579.3,705.0 580.6,705.9 581.9,707.0 582.9,708.2 583.8,709.6 584.5,711.1 585.4,712.4 586.4,713.6 587.6,714.7 588.8,715.9 589.7,717.2 590.3,718.7 590.8,720.3 591.3,721.8 592.1,723.2 593.2,724.4 594.3,725.6 595.3,726.9 596.1,728.3 596.6,729.8 597.1,731.4 597.9,732.8 598.9,734.1 600.2,735.1 601.4,736.2 602.4,737.5 603.2,738.9 603.9,740.4 604.6,741.8 605.6,743.1 606.8,744.2 608.0,745.2 609.2,746.4 610.1,747.7 610.8,749.2 611.5,750.7 612.3,752.0 613.4,753.2 614.6,754.3 615.9,755.4 616.8,756.7 617.5,758.1 618.1,759.7 618.7,761.2 619.6,762.5 620.7,763.7 621.9,764.9 622.9,766.1 623.7,767.5 624.4,769.0 625.0,770.5 625.8,771.9 626.9,773.1 628.1,774.1 629.4,775.2 630.5,776.3 631.3,777.7 632.1,779.2 632.9,780.5 634.0,781.8 635.2,782.8 636.5,783.8 637.7,784.9 638.7,786.1 639.5,787.6 640.3,789.0 641.2,790.3 642.3,791.5 643.6,792.5 644.9,793.5 645.9,794.7 646.7,796.1 647.4,797.6 648.1,799.1 649.1,800.4 650.3,801.5 651.5,802.6 652.6,803.7 653.5,805.0 654.2,806.5 654.8,808.0 655.6,809.4 656.7,810.7 657.9,811.7 659.1,812.9 660.1,814.1 660.8,815.6 661.4,817.1 662.1,818.6 663.0,819.9 664.1,821.1 665.3,822.2 666.3,823.5 667.1,824.9 667.6,826.4 668.1,828.0 668.8,829.4 669.8,830.7 670.9,831.9 672.0,833.1 672.9,834.5 673.5,836.0 673.9,837.6 674.5,839.1 675.3,840.5 676.3,841.7 677.5,842.9 678.5,844.2 679.2,845.6 679.7,847.2 680.2,848.7 680.8,850.2 681.8,851.5 682.9,852.7 684.0,853.9 684.9,855.2 685.6,856.7 686.0,858.3 686.6,859.8 687.5,861.2 688.5,862.4 689.7,863.5 690.7,864.8 691.5,866.2 692.0,867.7 692.6,869.3 693.3,870.7 694.2,872.0 695.4,873.2 696.5,874.4 697.5,875.7 698.1,877.1 698.7,878.7 699.3,880.2 700.2,881.5 701.3,882.7 702.5,883.8 703.6,885.0 704.5,886.3 705.2,887.8 705.9,889.3 706.8,890.6 707.9,891.8 709.2,892.8 710.4,893.8 711.5,895.0 712.3,896.4 713.1,897.9 713.9,899.3 715.0,900.5 716.2,901.5 717.5,902.5 718.8,903.5 719.8,904.8 720.7,906.1 721.5,907.5 722.6,908.7 723.9,909.7 725.3,910.5 726.7,911.3 728.0,912.3 729.1,913.4 730.2,914.7 731.3,915.8 732.6,916.8 734.0,917.6 735.4,918.3 736.8,919.1 738.1,920.2 739.2,921.3 740.3,922.5 741.5,923.6 742.9,924.4 744.4,925.1 745.8,925.8 747.2,926.6 748.4,927.7 749.5,928.8 750.7,929.9 752.1,930.8 753.5,931.6 755.0,932.2 756.4,933.0 757.7,934.0 758.8,935.1 759.9,936.3 761.1,937.4 762.3,938.4 763.7,939.3 765.1,940.2 766.2,941.3 767.2,942.6 768.0,944.0 768.9,945.4 769.9,946.6 771.2,947.6 772.5,948.6 773.7,949.7 774.7,950.9 775.5,952.3 776.4,953.7 777.5,954.9 778.8,955.9 780.2,956.6 781.7,957.3 783.0,958.2 784.2,959.3 785.4,960.4 786.6,961.5 787.9,962.4 789.4,963.1 790.9,963.7 792.3,964.4 793.6,965.3 794.9,966.3 796.1,967.4 797.5,968.2 799.0,968.8 800.6,969.1 802.2,969.2 803.8,969.2 805.4,969.1 806.9,968.9 808.5,968.7 810.1,968.4 811.6,968.1 813.3,967.9 814.8,968.5 816.0,969.5 817.1,970.8 818.0,972.2 819.3,973.3 820.8,973.9 822.4,973.9 824.0,973.7 825.6,973.6 827.2,973.6 828.8,973.6 830.4,973.6 832.0,973.7 833.6,973.7 835.1,974.2 836.4,975.1 837.4,976.4 838.2,977.9 839.1,979.3 840.4,980.3 842.0,980.6 843.7,980.5 845.3,980.3 846.9,980.2 848.5,980.1 850.1,980.1 851.7,980.0 853.2,979.9 854.8,979.6 856.4,979.4 858.0,979.2 859.6,979.1 861.2,979.3 862.7,979.7 864.1,980.5 865.3,981.4 866.6,982.3 867.9,983.2 869.1,984.3 870.2,985.4 871.5,986.4 873.0,987.0 874.6,987.2 876.2,987.1 877.8,987.0 879.4,986.8 881.0,986.8 882.6,986.8 884.2,986.8 885.8,986.7 887.4,986.5 889.0,986.3 890.6,986.0 892.2,985.9 893.8,985.8 895.4,985.8 897.0,985.8 898.6,985.7 900.2,985.5 901.8,985.2 903.4,985.0 905.0,985.0 906.6,985.0 908.2,985.1 909.7,985.3 911.2,985.7 912.7,986.2 914.1,987.0 915.1,988.2 916.0,989.7 916.8,991.1 918.0,992.2 919.5,992.7 921.2,992.8 922.8,992.7 924.4,992.6 926.0,992.6 927.6,992.6 929.2,992.6 930.8,992.6 932.4,992.4 934.0,992.2 935.6,991.9 937.2,991.8 938.8,991.7 940.4,991.7 942.0,991.7 943.6,991.6 945.2,991.4 946.7,991.1 948.3,990.9 949.9,990.8 951.5,990.8 953.1,990.9 954.7,990.9 956.3,990.9 957.9,990.8 959.6,990.9 961.1,991.4 962.4,992.4 963.3,993.8 964.1,995.3 965.1,996.6 966.4,997.5 967.9,998.0 969.5,998.2 971.0,998.4 972.6,998.5 974.2,998.6 975.8,998.6 977.4,998.5 979.0,998.3 980.6,998.1 982.2,997.9 983.8,997.9 985.4,997.9 987.0,997.9 988.6,997.8 990.2,997.6 991.8,997.4 993.4,997.2 995.0,997.2 996.6,997.2 998.2,997.5 999.7,997.8 1001.2,998.3 1002.6,999.0 1003.9,999.8 1005.1,1000.9 1006.1,1002.2 1007.2,1003.5 1008.6,1004.3 1010.2,1004.4 1011.8,1004.2 1013.4,1004.0 1015.0,1003.8 1016.6,1003.7 1018.2,1003.6 1019.8,1003.6 1021.4,1003.5 1023.0,1003.3 1024.6,1003.1 1026.2,1002.9 1027.8,1002.8 1029.4,1003.2 1030.7,1004.1 1031.8,1005.3 1032.9,1006.4 1034.2,1007.4 1035.6,1008.2 1036.9,1009.0 1038.3,1009.6 1039.9,1009.8 1041.5,1009.7 1043.1,1009.5 1044.6,1009.2 1046.2,1008.7 1047.7,1008.3 1049.3,1008.0 1050.9,1007.8 1052.5,1007.9 1054.0,1008.4 1055.2,1009.4 1056.4,1010.4 1057.7,1011.3 1058.9,1012.3 1060.0,1013.4 1061.1,1014.6 1062.5,1015.5 1064.1,1015.7 1065.7,1015.6 1067.3,1015.3 1068.8,1015.0 1070.4,1014.7 1072.0,1014.5 1073.6,1014.3 1075.2,1014.2 1076.8,1014.0 1078.3,1013.7 1079.9,1013.5 1081.6,1013.4 1083.2,1013.8 1084.3,1015.0 1085.2,1016.5 1086.1,1017.9 1087.2,1019.0 1088.6,1019.8 1090.1,1020.4 1091.6,1020.8 1093.2,1021.1 1094.7,1021.3 1096.3,1021.4 1097.9,1021.4 1099.5,1021.4 1101.1,1021.2 1102.7,1021.0 1104.3,1021.0 1105.9,1021.0 1107.5,1021.0 1109.1,1021.0 1110.7,1020.9 1112.3,1020.7 1113.9,1020.5 1115.5,1020.4 1117.1,1020.3 1118.7,1020.4 1120.3,1020.4 1121.9,1020.4 1123.5,1020.2 1125.1,1020.1 1126.7,1020.0 1128.3,1020.0 1129.9,1020.1 1131.4,1020.7 1132.5,1021.7 1133.2,1023.1 1134.0,1024.4 1135.3,1025.3 1136.7,1025.9 1138.2,1026.4 1139.7,1026.8 1141.3,1027.0 1142.9,1027.1 1144.5,1027.1 1146.1,1027.0 1147.7,1026.9 1149.3,1026.9 1150.9,1026.9 1152.5,1027.0 1154.1,1027.1 1155.7,1027.0 1157.3,1026.9 1158.9,1026.8 1160.5,1026.7 1162.1,1026.7 1163.7,1026.7 1165.3,1026.8 1166.9,1026.8 1168.5,1026.7 1170.1,1026.6 1171.7,1026.4 1173.3,1026.4 1174.9,1026.4 1176.5,1026.5 1178.1,1026.5 1179.7,1026.5 1181.3,1026.3 1182.9,1026.2 1184.5,1026.1 1186.1,1026.1 1187.7,1026.1 1189.3,1026.2 1190.9,1026.2 1192.5,1026.1 1194.1,1026.0 1195.7,1025.8 1197.3,1025.8 1198.9,1025.8 1200.5,1025.9 1202.1,1026.0 1203.7,1025.9 1205.3,1025.8 1206.9,1025.7 1208.5,1025.6 1210.1,1025.7 1211.7,1025.7 1213.3,1025.9 1214.9,1026.0 1216.5,1026.0 1218.1,1025.9 1219.7,1026.0 1221.3,1026.2 1222.8,1026.8 1224.2,1027.6 1225.4,1028.5 1226.6,1029.5 1227.9,1030.5 1229.0,1031.5 1230.2,1032.6 1231.5,1033.4 1233.0,1033.8 1234.6,1033.9 1236.2,1033.9 1237.8,1033.8 1239.4,1033.5 1241.0,1033.2 1242.5,1032.8 1244.1,1032.6 1245.7,1032.2 1247.2,1031.6 1248.5,1030.8 1249.8,1029.7 1251.0,1028.6 1252.2,1027.6 1253.6,1026.8 1255.1,1026.2 1256.7,1025.7 1258.2,1025.1 1259.6,1024.4 1261.0,1023.6 1262.3,1022.8 1263.8,1022.1 1265.3,1021.6 1266.9,1021.2 1268.4,1020.7 1269.9,1020.0 1271.3,1019.2 1272.6,1018.3 1273.9,1017.3 1275.3,1016.6 1276.8,1015.9 1278.3,1015.3 1279.7,1014.5 1280.9,1013.5 1282.1,1012.4 1283.4,1011.4 1284.7,1010.5 1286.1,1009.8 1287.6,1009.2 1289.1,1008.5 1290.5,1007.7 1291.7,1006.7 1293.0,1005.7 1294.5,1004.9 1296.0,1004.4 1297.6,1004.1 1299.1,1004.5 1300.4,1005.3 1301.7,1006.2 1303.1,1007.0 1304.4,1008.0 1305.5,1009.1 1306.5,1010.4 1307.3,1011.8 1308.3,1013.1 1309.6,1014.1 1311.2,1014.7 1312.8,1014.8 1314.4,1015.0 1315.9,1015.3 1317.5,1015.5 1319.1,1015.7 1320.7,1015.7 1322.3,1015.6 1323.9,1015.3 1325.5,1014.9 1327.0,1014.5 1328.5,1014.1 1330.0,1013.6 1331.5,1012.9 1332.9,1012.1 1334.1,1011.0 1335.2,1009.8 1336.4,1008.7 1337.7,1007.8 1339.2,1007.1 1340.6,1006.4 1342.0,1005.5 1343.2,1004.4 1344.2,1003.2 1345.3,1002.0 1346.6,1001.0 1347.9,1000.1 1349.4,999.4 1350.8,998.5 1352.0,997.5 1353.0,996.3 1354.1,995.0 1355.1,993.8 1356.4,992.8 1357.8,992.0 1359.2,991.2 1360.6,990.3 1361.7,989.2 1362.8,988.0 1364.0,986.8 1365.4,986.0 1367.0,985.6 1368.6,985.6 1370.1,985.9 1371.7,986.3 1373.2,986.6 1374.8,986.9 1376.4,986.9 1377.9,986.6 1379.4,986.2 1381.0,985.7 1382.5,985.1 1383.8,984.3 1385.1,983.3 1386.4,982.3 1387.8,981.5 1389.3,980.9 1390.8,980.4 1392.3,979.8 1393.8,979.1 1395.2,978.3 1396.6,977.5 1398.0,976.8 1399.5,976.3 1401.1,975.9 1402.6,975.5 1404.1,974.9 1405.6,974.2 1406.9,973.4 1408.3,972.5 1409.7,971.7 1411.2,971.1 1412.7,970.5 1414.1,969.7 1415.3,968.7 1416.3,967.3 1417.1,965.9 1418.0,964.6 1419.1,963.4 1420.4,962.4 1421.6,961.4 1422.8,960.2 1423.6,958.8 1424.3,957.4 1425.0,955.9 1426.0,954.6 1427.1,953.4 1428.4,952.4 1429.6,951.3 1430.6,950.1 1431.4,948.7 1432.1,947.2 1432.9,945.8 1434.0,944.6 1435.2,943.5 1436.5,942.5 1437.6,941.3 1438.4,939.9 1438.9,938.3 1439.5,936.8 1440.2,935.4 1441.1,934.1 1442.2,932.8 1443.2,931.6 1444.0,930.1 1444.4,928.6 1444.7,926.9 1445.2,925.4 1446.0,924.0 1447.0,922.7 1448.0,921.4 1448.9,920.1 1449.4,918.5 1449.7,916.9 1450.1,915.3 1450.7,913.8 1451.5,912.5 1452.6,911.2 1453.5,909.9 1454.2,908.4 1454.5,906.8 1454.8,905.2 1455.2,903.6 1455.9,902.1 1456.8,900.8 1457.8,899.5 1458.5,898.1 1459.0,896.5 1459.2,894.9 1459.5,893.3 1460.0,891.7 1460.8,890.4 1461.8,889.0 1462.7,887.6 1463.2,886.1 1463.5,884.5 1463.6,882.9 1463.9,881.3 1464.5,879.8 1465.4,878.4 1466.3,877.0 1466.9,875.5 1467.2,873.9 1467.3,872.3 1467.4,870.7 1467.7,869.1 1468.4,867.6 1469.3,866.2 1470.0,864.8 1470.5,863.2 1470.6,861.6 1470.6,859.9 1470.8,858.3 1471.3,856.8 1472.1,855.4 1473.0,854.0 1473.6,852.5 1473.9,850.9 1473.9,849.2 1474.0,847.6 1474.4,846.0 1475.1,844.6 1476.0,843.2 1476.8,841.8 1477.3,840.2 1477.5,838.6 1477.5,836.9 1477.8,835.3 1478.3,833.8 1479.2,832.4 1480.0,831.0 1480.7,829.6 1481.0,828.0 1481.1,826.3 1481.2,824.7 1481.6,823.1 1482.3,821.7 1483.2,820.3 1484.0,818.8 1484.4,817.3 1484.6,815.7 1484.6,814.0 1484.9,812.4 1485.4,810.9 1486.2,809.5 1487.1,808.1 1487.7,806.6 1488.0,805.0 1488.0,803.4 1488.1,801.7 1488.5,800.2 1489.2,798.7 1490.1,797.3 1490.8,795.8 1491.3,794.3 1491.4,792.7 1491.4,791.0 1491.6,789.4 1492.2,787.9 1493.0,786.5 1493.8,785.0 1494.4,783.5 1494.6,781.9 1494.6,780.3 1494.7,778.6 1495.0,777.1 1495.6,775.6 1496.5,774.1 1497.2,772.7 1497.6,771.1 1497.7,769.5 1497.7,767.8 1497.8,766.2 1498.3,764.7 1499.1,763.3 1499.9,761.8 1500.4,760.3 1500.7,758.7 1500.7,757.1 1500.8,755.4 1501.1,753.9 1501.8,752.4 1502.6,751.0 1503.4,749.5 1503.8,748.0 1503.9,746.3 1503.9,744.7 1504.1,743.1 1504.6,741.6 1505.4,740.1 1506.3,738.7 1506.9,737.2 1507.2,735.6 1507.2,734.0 1507.3,732.3 1507.7,730.8 1508.5,729.3 1509.4,727.9 1510.2,726.5 1510.7,725.0 1511.0,723.4 1511.1,721.8 1511.4,720.2 1512.1,718.7 1513.0,717.3 1513.9,716.0 1514.6,714.5 1515.1,713.0 1515.3,711.4 1515.5,709.7 1516.1,708.2 1516.9,706.8 1518.0,705.6 1518.9,704.2 1519.6,702.8 1520.1,701.3 1520.5,699.7 1521.3,698.2 1522.4,697.0 1523.8,696.1 1525.2,695.3 1526.5,694.4 1527.7,693.5 1529.2,692.8 1530.7,693.1 1532.2,693.9 1533.4,695.0 1534.4,696.3 1535.4,697.6 1536.4,698.7 1537.6,699.8 1538.9,700.9 1539.9,702.1 1540.7,703.5 1541.3,705.1 1541.7,706.7 1542.2,708.1 1543.0,709.5 1543.9,710.9 1544.7,712.3 1545.2,713.9 1545.4,715.5 1545.3,717.1 1545.4,718.8 1545.8,720.3 1546.4,721.8 1547.2,723.3 1547.9,724.8 1548.1,726.3 1548.1,728.0 1548.1,729.6 1548.3,731.2 1548.9,732.7 1549.7,734.2 1550.4,735.6 1551.0,737.2 1551.1,738.8 1551.1,740.4 1551.2,742.1 1551.6,743.6 1552.4,745.1 1553.2,746.5 1553.9,748.0 1554.2,749.5 1554.2,751.2 1554.3,752.8 1554.5,754.4 1555.1,755.9 1555.9,757.4 1556.6,758.8 1557.1,760.4 1557.2,762.0 1557.2,763.7 1557.2,765.3 1557.6,766.8 1558.2,768.3 1559.0,769.8 1559.7,771.3 1560.0,772.8 1560.0,774.5 1560.0,776.1 1560.2,777.8 1560.9,779.2 1561.7,780.6 1562.6,782.0 1563.3,783.5 1563.7,785.0 1563.9,786.7 1564.2,788.3 1564.8,789.8 1565.7,791.1 1566.7,792.4 1567.6,793.8 1568.1,795.3 1568.5,796.9 1568.7,798.5 1569.2,800.1 1570.0,801.5 1571.0,802.8 1572.0,804.1 1572.7,805.5 1573.1,807.1 1573.3,808.7 1573.7,810.3 1574.3,811.8 1575.2,813.1 1576.2,814.4 1577.1,815.8 1577.7,817.3 1578.1,818.9 1578.5,820.5 1579.1,822.0 1580.1,823.3 1581.3,824.4 1582.4,825.6 1583.4,826.9 1584.1,828.3 1584.7,829.8 1585.6,831.2 1586.7,832.4 1588.1,833.3 1589.6,834.0 1591.0,834.7 1592.3,835.7 1593.4,836.9 1594.4,838.1 1595.4,839.3 1596.4,840.6 1597.5,841.7 1598.5,843.0 1599.4,844.4 1599.9,845.9 1600.2,847.5 1600.7,849.1 1601.6,850.5 1602.8,851.6 1604.0,852.5 1605.5,853.0 1606.8,852.3 1608.2,851.5 1609.6,850.7 1610.8,849.6 1611.5,848.1 1611.9,846.4 1612.2,844.8 1612.6,843.3 1613.4,841.9 1614.4,840.6 1615.3,839.2 1615.9,837.7 1616.2,836.1 1616.4,834.5 1616.6,832.9 1617.2,831.4 1618.1,830.0 1619.0,828.6 1619.8,827.2 1620.1,825.6 1620.3,824.0 1620.4,822.3 1620.8,820.8 1621.5,819.3 1622.4,817.9 1623.2,816.5 1623.7,815.0 1623.9,813.4 1624.0,811.7 1624.2,810.1 1624.8,808.6 1625.6,807.2 1626.5,805.8 1627.2,804.4 1627.6,802.8 1627.8,801.2 1628.1,799.6 1628.6,798.0 1629.4,796.7 1630.5,795.4 1631.5,794.1 1632.2,792.6 1632.6,791.1 1633.0,789.5 1633.4,787.9 1634.1,786.5 1635.1,785.2 1636.1,783.9 1636.9,782.4 1637.3,780.8 1637.3,779.2 1637.3,777.5 1637.5,775.9 1638.1,774.4 1638.8,773.0 1639.5,771.5 1639.9,769.9 1639.9,768.3 1639.9,766.6 1640.0,765.0 1640.6,763.4 1641.6,762.1 1642.8,761.0 1644.0,760.0 1645.1,758.9 1646.3,757.8 1647.8,757.2 1649.3,757.6 1650.7,758.5 1651.7,759.8 1652.6,761.1 1653.6,762.4 1654.6,763.6 1655.6,764.8 1656.5,766.2 1657.1,767.7 1657.3,769.4 1657.5,771.0 1657.8,772.6 1658.4,774.1 1659.3,775.4 1660.2,776.8 1660.8,778.3 1661.0,779.9 1661.1,781.6 1661.2,783.2 1661.5,784.8 1662.2,786.3 1663.0,787.7 1663.7,789.2 1664.1,790.7 1664.2,792.4 1664.2,794.0 1664.4,795.6 1664.9,797.1 1665.7,798.6 1666.6,800.0 1667.2,801.5 1667.4,803.1 1667.5,804.7 1667.7,806.3 1668.1,807.9 1668.9,809.3 1669.8,810.7 1670.5,812.1 1671.0,813.7 1671.1,815.3 1671.2,817.0 1671.5,818.6 1672.2,820.0 1673.1,821.4 1674.0,822.8 1674.7,824.2 1675.0,825.8 1675.2,827.5 1675.4,829.1 1675.9,830.6 1676.8,832.0 1677.8,833.3 1678.6,834.7 1679.2,836.1 1679.7,837.7 1680.1,839.3 1680.8,840.7 1681.9,842.0 1683.1,843.1 1684.3,844.2 1685.3,845.5 1686.0,846.9 1686.6,848.5 1687.1,850.0 1687.8,851.4 1688.7,852.7 1689.5,854.1 1690.2,855.6 1690.5,857.2 1690.5,858.8 1690.4,860.5 1690.4,862.1 1690.8,863.7 1691.5,865.2 1692.2,866.7 1692.5,868.2 1692.6,869.9 1692.4,871.5 1692.4,873.1 1692.6,874.7 1693.1,876.3 1693.8,877.8 1694.3,879.3 1694.6,880.9 1694.4,882.5 1694.3,884.2 1694.3,885.8 1694.7,887.3 1695.4,888.9 1696.0,890.4 1696.4,891.9 1696.5,893.5 1696.5,895.2 1696.5,896.8 1696.8,898.4 1697.5,899.9 1698.3,901.3 1699.0,902.8 1699.3,904.3 1699.4,906.0 1699.4,907.6 1699.6,909.2 1700.1,910.8 1700.9,912.2 1701.7,913.7 1702.2,915.2 1702.3,916.8 1702.2,918.5 1702.1,920.1 1702.4,921.7 1702.9,923.2 1703.6,924.7 1704.1,926.3 1704.3,927.8 1704.2,929.5 1704.1,931.1 1704.1,932.8 1704.6,934.3 1705.3,935.8 1706.1,937.2 1706.7,938.7 1706.9,940.3 1707.0,942.0 1707.2,943.6 1707.7,945.1 1708.4,946.5 1709.4,947.9 1710.2,949.3 1710.7,950.8 1711.0,952.4 1711.2,954.1 1711.6,955.6 1712.3,957.1 1713.3,958.4 1714.3,959.7 1715.2,961.0 1715.9,962.4 1716.6,963.9 1717.6,965.2 1718.8,966.2 1720.2,967.1 1721.6,967.8 1723.0,968.6 1724.3,969.6 1725.4,970.8 1726.5,972.0 1727.6,973.1 1728.8,974.1 1730.2,975.0 1731.4,976.1 1732.3,977.5 1732.9,979.0 1733.3,980.6 1733.6,982.2 1734.2,983.7 1735.1,985.0 1736.1,986.4 1736.9,987.8 1737.5,989.3 1737.6,990.9 1737.7,992.6 1737.9,994.2 1738.3,995.7 1739.0,997.2 1739.6,998.7 1740.0,1000.3 1740.0,1001.9 1739.8,1003.5 1739.7,1005.2 1739.9,1006.8 1740.4,1008.3 1741.2,1009.8 1741.8,1011.3 1742.1,1012.8 1742.3,1014.4 1742.5,1016.0 1743.0,1017.6 1743.8,1019.0 1744.8,1020.3 1745.8,1021.6 1746.6,1022.9 1747.2,1024.4 1747.6,1026.0 1748.2,1027.6 1749.0,1029.0 1750.1,1030.2 1751.4,1031.2 1752.8,1031.9 1754.2,1032.7 1755.6,1033.3 1757.1,1033.9 1758.6,1034.4 1760.2,1034.7 1761.8,1034.9 1763.4,1035.2 1764.9,1035.9 1766.1,1036.9 1767.2,1038.2 1768.1,1039.5 1769.2,1040.7 1770.5,1041.6 1771.9,1042.5 1773.2,1043.5 1774.3,1044.6 1775.3,1045.9 1776.4,1047.1 1777.6,1048.1 1779.1,1048.9 1780.6,1049.4 1782.1,1050.0 1783.6,1050.8 1784.8,1051.8 1785.9,1053.0 1786.9,1054.2 1788.0,1055.4 1789.3,1056.4 1790.6,1057.3 1791.9,1058.3 1792.9,1059.5 1793.8,1060.9 1794.6,1062.4 1795.5,1063.7 1796.6,1064.8 1797.9,1065.8 1799.2,1066.8 1800.4,1067.9 1801.3,1069.3 1802.0,1070.7 1802.8,1072.1 1803.8,1073.4 1805.0,1074.5 1806.2,1075.5 1807.4,1076.7 1808.3,1078.1 1808.8,1079.6 1809.3,1081.2 1809.9,1082.7 1810.8,1084.0 1811.9,1085.2 1813.0,1086.4 1813.9,1087.8 1814.5,1089.2 1815.0,1090.8 1815.5,1092.4 1816.4,1093.8 1817.5,1094.9 1818.8,1095.9 1820.0,1097.0 1821.1,1098.1 1822.1,1099.4 1823.1,1100.7 1824.3,1101.9 1825.7,1102.7 1827.2,1103.2 1828.8,1103.2 1830.2,1102.5 1831.5,1101.7 1833.0,1101.0 1834.4,1100.3 1835.7,1099.4 1836.9,1098.3 1838.2,1097.2 1839.7,1096.6 1841.3,1096.9 1842.8,1097.4 1844.2,1098.2 1845.7,1099.0 1847.2,1099.4 1848.8,1099.7 1850.3,1099.3 1851.5,1098.3 1852.7,1097.3 1854.1,1096.5 1855.4,1095.5 1856.5,1094.3 1857.4,1092.9 1858.0,1091.4 1858.6,1089.9 1859.3,1088.5 1860.2,1087.2 1861.2,1085.9 1862.0,1084.4 1862.4,1082.9 1862.6,1081.3 1862.7,1079.6 1863.0,1078.0 1863.6,1076.6 1864.5,1075.2 1865.3,1073.7 1865.9,1072.2 1866.1,1070.6 1866.1,1069.0 1866.3,1067.3 1866.8,1065.8 1867.6,1064.4 1868.4,1063.0 1869.1,1061.5 1869.5,1060.0 1869.6,1058.3 1869.7,1056.7 1870.0,1055.1 1870.6,1053.6 1871.4,1052.2 1872.3,1050.8 1872.8,1049.2 1873.0,1047.6 1873.0,1046.0 1873.2,1044.4 1873.6,1042.8 1874.4,1041.4 1875.2,1040.0 1875.9,1038.5 1876.3,1036.9 1876.3,1035.3 1876.4,1033.6 1876.6,1032.0 1877.2,1030.5 1878.0,1029.1 1878.7,1027.6 1879.2,1026.1 1879.3,1024.5 1879.3,1022.8 1879.4,1021.2 1879.8,1019.6 1880.5,1018.2 1881.3,1016.7 1881.9,1015.2 1882.2,1013.7 1882.2,1012.0 1882.2,1010.4 1882.4,1008.8 1882.9,1007.2 1883.7,1005.8 1884.5,1004.3 1885.0,1002.8 1885.1,1001.2 1885.0,999.5 1885.1,997.9 1885.5,996.3 1886.2,994.9 1887.0,993.4 1887.6,991.9 1887.9,990.3 1887.9,988.7 1887.9,987.1 1888.1,985.5 1888.7,983.9 1889.5,982.5 1890.2,981.0 1890.7,979.5 1890.8,977.9 1890.8,976.2 1890.9,974.6 1891.3,973.0 1892.0,971.6 1892.8,970.1 1893.4,968.6 1893.7,967.1 1893.8,965.4 1893.8,963.8 1894.0,962.2 1894.6,960.7 1895.4,959.2 1896.2,957.8 1896.7,956.3 1896.8,954.6 1896.8,953.0 1896.9,951.4 1897.3,949.8 1898.1,948.4 1898.9,946.9 1899.5,945.4 1899.9,943.9 1899.9,942.2 1899.9,940.6 1900.2,939.0 1900.7,937.5 1901.5,936.0 1902.3,934.6 1902.8,933.0 1902.9,931.4 1902.9,929.8 1903.0,928.1 1903.3,926.6 1904.0,925.1 1904.8,923.6 1905.4,922.1 1905.7,920.6 1905.7,918.9 1905.6,917.3 1905.8,915.7 1906.3,914.1 1907.1,912.7 1907.8,911.2 1908.2,909.6 1908.3,908.0 1908.2,906.4 1908.2,904.7 1908.6,903.2 1909.2,901.7 1910.0,900.2 1910.6,898.7 1910.8,897.1 1910.8,895.5 1910.7,893.8 1910.8,892.2 1911.3,890.7 1912.1,889.2 1912.8,887.7 1913.2,886.2 1913.2,884.5 1913.1,882.9 1913.1,881.2 1913.4,879.7 1914.0,878.2 1914.8,876.7 1915.3,875.2 1915.5,873.6 1915.5,871.9 1915.4,870.3 1915.5,868.7 1916.0,867.1 1916.7,865.7 1917.4,864.2 1917.8,862.6 1917.9,861.0 1917.8,859.3 1917.8,857.7 1918.1,856.1 1918.8,854.6 1919.5,853.2 1920.1,851.7 1920.4,850.1 1920.4,848.4 1920.3,846.8 1920.5,845.2 1921.0,843.7 1921.8,842.2 1922.5,840.7 1922.9,839.2 1923.1,837.6 1923.0,835.9 1923.0,834.3 1923.4,832.7 1924.0,831.2 1924.8,829.8 1925.4,828.3 1925.7,826.7 1925.6,825.0 1925.6,823.4 1925.7,821.8 1926.3,820.3 1927.0,818.8 1927.7,817.3 1928.2,815.8 1928.3,814.1 1928.2,812.5 1928.2,810.8 1928.5,809.3 1929.2,807.8 1930.0,806.3 1930.6,804.8 1930.8,803.2 1930.8,801.6 1930.8,799.9 1931.0,798.3 1931.5,796.8 1932.3,795.4 1933.0,793.9 1933.4,792.3 1933.6,790.7 1933.5,789.1 1933.5,787.4 1933.9,785.9 1934.6,784.4 1935.4,782.9 1936.0,781.4 1936.3,779.9 1936.3,778.2 1936.3,776.6 1936.5,775.0 1937.1,773.5 1937.9,772.0 1938.7,770.6 1939.2,769.1 1939.4,767.5 1939.4,765.8 1939.7,764.2 1940.3,762.7 1941.2,761.3 1942.2,760.0 1943.1,758.7 1943.6,757.2 1944.0,755.6 1944.3,754.0 1944.9,752.4 1945.7,751.1 1946.8,749.8 1947.8,748.5 1948.6,747.1 1949.1,745.6 1949.4,744.0 1949.8,742.4 1950.4,740.9 1951.4,739.6 1952.5,738.4 1953.6,737.2 1954.4,735.8 1955.0,734.3 1955.7,732.8 1956.5,731.5 1957.6,730.3 1958.8,729.2 1960.1,728.1 1961.1,726.8 1961.8,725.4 1962.3,723.8 1962.9,722.3 1963.7,720.9 1964.7,719.6 1965.8,718.4 1966.7,717.1 1967.4,715.7 1967.9,714.1 1968.3,712.5 1968.9,711.0 1969.8,709.7 1971.0,708.5 1972.1,707.4 1973.1,706.1 1973.9,704.7 1974.6,703.2 1975.4,701.8 1976.5,700.6 1977.8,699.6 1979.1,698.7 1980.3,697.7 1981.4,696.5 1982.5,695.3 1983.7,694.2 1985.2,693.6 1986.8,693.4 1988.4,693.4 1990.0,693.4 1991.6,693.5 1993.2,693.6 1994.8,693.7 1996.4,694.1 1997.8,695.0 1999.0,696.1 2000.2,697.2 2001.4,698.2 2002.9,698.9 2004.5,699.3 2006.1,699.5 2007.6,699.6 2009.2,699.8 2010.8,699.9 2012.4,700.0 2014.0,700.1 2015.6,700.0 2017.2,699.9 2018.8,699.7 2020.4,699.7 2022.0,699.7 2023.6,699.8 2025.2,699.8 2026.8,699.8 2028.4,699.6 2030.0,699.4 2031.6,699.3 2033.2,699.3 2034.5,699.4" fill="none" stroke="#000" stroke-width="7.1" stroke-linejoin="round" stroke-linecap="round"/>
<ellipse cx="569.5" cy="699.5" rx="9" ry="5.2" transform="rotate(28 569.5 699.5)" fill="#000"/>
<ellipse cx="1952" cy="739" rx="5.5" ry="8" transform="rotate(-12 1952 739)" fill="#000"/>
<polyline points="418.4,271.4 419.8,272.2 421.3,272.8 422.7,273.4 424.1,274.1 425.7,274.5 427.2,274.4 428.8,274.1 430.4,273.6 431.8,272.9 433.2,272.1 434.7,271.4 436.2,270.9 437.8,270.5 439.3,270.2 440.9,270.1 442.4,270.3 444.0,270.6 445.5,271.1 447.0,271.7 448.4,272.5 449.8,273.4 451.3,274.1 452.8,274.5 454.4,274.6 455.9,273.9 457.1,272.9 458.5,272.1 459.9,271.4 461.3,270.7 462.8,270.1 464.3,270.3 465.8,270.8 467.2,271.5" fill="none" stroke="#ff0000" stroke-width="10.5" stroke-linejoin="round" stroke-linecap="round"/>
<polyline points="510.0,284.8 511.4,283.9 512.6,282.9 513.7,281.8 514.8,280.7 516.4,280.4 517.9,280.8 519.3,281.6 520.5,282.7 521.7,283.9 522.9,285.0 524.2,285.8 525.7,286.6 527.1,287.3 528.4,288.2 529.5,289.4 530.6,290.7 531.7,291.9 532.9,292.9 534.3,293.7 535.8,294.4 537.1,295.1 538.4,296.0 540.0,296.2 541.4,295.6 542.7,294.5 543.6,293.2 544.4,291.7 545.1,290.2 546.1,288.9 547.3,287.9 548.7,287.2 550.2,287.4 551.5,288.3 552.8,289.2 554.3,289.9 555.6,290.8 556.8,291.8 558.0,293.0 559.2,294.1 560.6,294.8 562.2,295.1 563.8,295.2 565.4,295.3 567.0,295.4 568.6,295.7 570.2,296.0 571.8,296.3 573.3,296.6 574.9,296.8 576.5,297.0" fill="none" stroke="#ff0000" stroke-width="10.5" stroke-linejoin="round" stroke-linecap="round"/>
<line x1="790" y1="151.5" x2="866" y2="151.5" stroke="#2e2e2e" stroke-width="7" stroke-linecap="round"/>
<line x1="790" y1="235" x2="866" y2="235" stroke="#ff3030" stroke-width="7" stroke-linecap="round"/>
<text id="leg1" x="890.5" y="160" font-size="59.5" textLength="520.5" lengthAdjust="spacingAndGlyphs">PtRu/CNC-PPy750</text>
<text id="leg2" x="901.5" y="262" font-size="59.5" textLength="365" lengthAdjust="spacingAndGlyphs">CNC-PPy750</text>
<text id="li" x="320.8" y="233.5" font-size="59" textLength="57" lengthAdjust="spacingAndGlyphs">(i)</text>
<text id="lii" x="303" y="650.5" font-size="59.5" textLength="76" lengthAdjust="spacingAndGlyphs">(ii)</text>
<text id="y0" x="147" y="77" font-size="61" textLength="66" lengthAdjust="spacingAndGlyphs">35</text>
<text id="y1" x="157" y="297" font-size="58.5" textLength="64" lengthAdjust="spacingAndGlyphs">30</text>
<text id="y2" x="167.5" y="501" font-size="61" textLength="55" lengthAdjust="spacingAndGlyphs">25</text>
<text id="y3" x="150" y="711.2" font-size="58.5" textLength="66.5" lengthAdjust="spacingAndGlyphs">20</text>
<text id="y4" x="148" y="921.6" font-size="58.5" textLength="66" lengthAdjust="spacingAndGlyphs">15</text>
<text id="y5" x="148" y="1128.8" font-size="59" textLength="67" lengthAdjust="spacingAndGlyphs">10</text>
<text id="y6" x="176" y="1340.5" font-size="61" textLength="32.5" lengthAdjust="spacingAndGlyphs">5</text>
<text id="x0" x="328" y="1393.4" font-size="56" textLength="131" lengthAdjust="spacingAndGlyphs">4000</text>
<text id="x1" x="580" y="1401.5" font-size="58.5" textLength="133" lengthAdjust="spacingAndGlyphs">3500</text>
<text id="x2" x="818.5" y="1401.5" font-size="58.5" textLength="131.5" lengthAdjust="spacingAndGlyphs">3000</text>
<text id="x3" x="1063.2" y="1401.5" font-size="58.5" textLength="133.5" lengthAdjust="spacingAndGlyphs">2500</text>
<text id="x4" x="1318.5" y="1407.6" font-size="58.5" textLength="132" lengthAdjust="spacingAndGlyphs">2000</text>
<text id="x5" x="1563" y="1404.8" font-size="58.5" textLength="128.5" lengthAdjust="spacingAndGlyphs">1500</text>
<text id="x6" x="1811" y="1407.6" font-size="58.5" textLength="128" lengthAdjust="spacingAndGlyphs">1000</text>
<text id="xt" font-size="80"><tspan x="745.5" y="1533" textLength="659" lengthAdjust="spacingAndGlyphs">Wavenumber (cm</tspan><tspan id="xs" x="1405.4" y="1511" font-size="62.5">-1</tspan><tspan id="xp" x="1460.8" y="1533"> )</tspan></text>
<text id="yt" transform="translate(92.8,1049) rotate(-90)" font-size="81.5" textLength="677" lengthAdjust="spacingAndGlyphs">Transmittance (%)</text>
</g></svg></body></html>
